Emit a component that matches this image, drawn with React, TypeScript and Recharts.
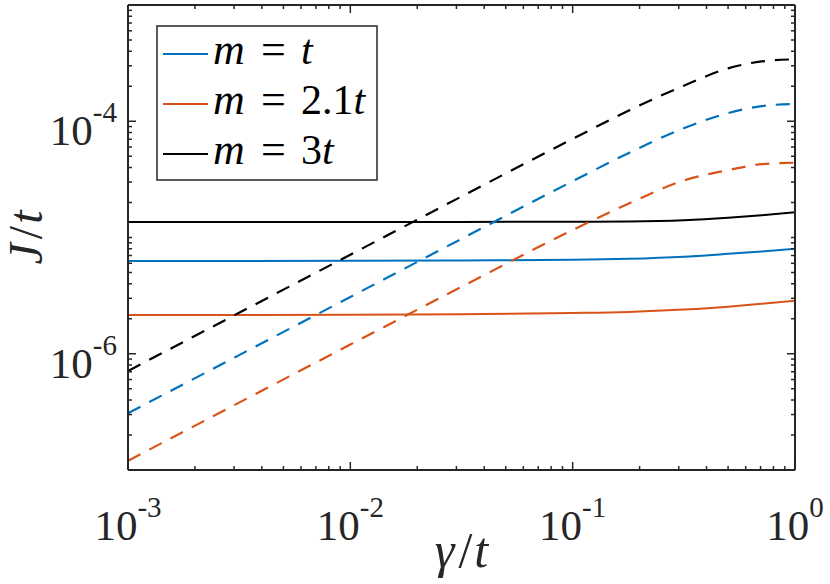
import React from 'react';
import { LineChart, Line, XAxis, YAxis, Legend, Label } from 'recharts';

// gamma / t sample points (log axis)
const gamma = [1e-3, 3.16e-3, 1e-2, 3.16e-2, 0.1, 0.178, 0.316, 0.5, 0.708, 1];

// solid curves
const solidM1 = [6.28e-6, 6.28e-6, 6.3e-6, 6.35e-6, 6.43e-6, 6.56e-6, 6.84e-6, 7.24e-6, 7.59e-6, 8.02e-6];
const solidM21 = [2.15e-6, 2.15e-6, 2.16e-6, 2.19e-6, 2.24e-6, 2.29e-6, 2.4e-6, 2.54e-6, 2.69e-6, 2.86e-6];
const solidM3 = [1.358e-5, 1.358e-5, 1.36e-5, 1.362e-5, 1.365e-5, 1.374e-5, 1.41e-5, 1.48e-5, 1.556e-5, 1.648e-5];

// dashed curves
const dashedM1 = [3.08e-7, 9.73e-7, 3.08e-6, 9.73e-6, 3.05e-5, 5.31e-5, 8.71e-5, 1.175e-4, 1.35e-4, 1.41e-4];
const dashedM21 = [1.2e-7, 3.8e-7, 1.2e-6, 3.76e-6, 1.16e-5, 1.95e-5, 3.09e-5, 3.8e-5, 4.27e-5, 4.4e-5];
const dashedM3 = [7.11e-7, 2.25e-6, 7.11e-6, 2.25e-5, 7.05e-5, 1.23e-4, 2.02e-4, 2.85e-4, 3.27e-4, 3.41e-4];

const legendOrder = ['s1', 's21', 's3'];

const xTicks = [
  1e-3, 2e-3, 3e-3, 4e-3, 5e-3, 6e-3, 7e-3, 8e-3, 9e-3,
  1e-2, 2e-2, 3e-2, 4e-2, 5e-2, 6e-2, 7e-2, 8e-2, 9e-2,
  1e-1, 0.2, 0.3, 0.4, 0.5, 0.6, 0.7, 0.8, 0.9, 1,
];
const yTicks = [
  1e-7, 2e-7, 3e-7, 4e-7, 5e-7, 6e-7, 7e-7, 8e-7, 9e-7,
  1e-6, 2e-6, 3e-6, 4e-6, 5e-6, 6e-6, 7e-6, 8e-6, 9e-6,
  1e-5, 2e-5, 3e-5, 4e-5, 5e-5, 6e-5, 7e-5, 8e-5, 9e-5,
  1e-4, 2e-4, 3e-4, 4e-4, 5e-4, 6e-4, 7e-4, 8e-4, 9e-4,
  1e-3,
];
const xLabelled = [1e-3, 1e-2, 1e-1, 1];
const yLabelled = [1e-6, 1e-4];

const data = gamma.map((g, i) => ({
  g,
  s1: solidM1[i],
  s21: solidM21[i],
  s3: solidM3[i],
  d1: dashedM1[i],
  d21: dashedM21[i],
  d3: dashedM3[i],
}));

const AXIS = '#262626';
const BLUE = '#0072BD';
const RED = '#D95319';
const serif = { fontFamily: 'Liberation Serif' };

const near = (a: number, b: number) => Math.abs(Math.log10(a) - Math.log10(b)) < 1e-6;
const isDecade = (v: number) => Math.abs(Math.log10(v) - Math.round(Math.log10(v))) < 1e-6;
const expOf = (v: number) => `${Math.round(Math.log10(v))}`;

function BottomTick({ x, y, payload }: any) {
  const v = payload.value;
  const major = isDecade(v);
  const show = xLabelled.some((t) => near(t, v));
  return (
    <g>
      <line x1={x} x2={x} y1={y} y2={y - (major ? 8 : 4)} stroke={AXIS} strokeWidth={1.5} />
      {show && (
        <text x={x} y={y + 70} textAnchor="middle" style={serif} fontSize={43} fill={AXIS}>
          10
          <tspan dy={-23} fontSize={29}>
            {expOf(v)}
          </tspan>
        </text>
      )}
    </g>
  );
}

function TopTick({ x, y, payload }: any) {
  const major = isDecade(payload.value);
  return <line x1={x} x2={x} y1={y} y2={y + (major ? 8 : 4)} stroke={AXIS} strokeWidth={1.5} />;
}

function LeftTick({ x, y, payload }: any) {
  const v = payload.value;
  const show = yLabelled.some((t) => near(t, v));
  return (
    <g>
      <line x1={x} x2={x + (show ? 8 : 4)} y1={y} y2={y} stroke={AXIS} strokeWidth={1.5} />
      {show && (
        <text x={x - 11} y={y + 24} textAnchor="end" style={serif} fontSize={43} fill={AXIS}>
          10
          <tspan dy={-23} fontSize={29}>
            {expOf(v)}
          </tspan>
        </text>
      )}
    </g>
  );
}

function RightTick({ x, y, payload }: any) {
  const major = yLabelled.some((t) => near(t, payload.value));
  return <line x1={x} x2={x - (major ? 8 : 4)} y1={y} y2={y} stroke={AXIS} strokeWidth={1.5} />;
}

function XTitle({ viewBox }: any) {
  const { x, y, width } = viewBox;
  return (
    <text x={x + width / 2} y={y + 97} textAnchor="middle" style={serif} fontSize={50} fill={AXIS}>
      <tspan fontStyle="italic">γ</tspan>
      <tspan dx={4}>/</tspan>
      <tspan dx={2} fontStyle="italic">t</tspan>
    </text>
  );
}

function YTitle({ viewBox }: any) {
  const { x, y, height } = viewBox;
  const cx = x + 42;
  const cy = y + height / 2;
  return (
    <text
      x={cx}
      y={cy}
      transform={`rotate(-90 ${cx} ${cy})`}
      textAnchor="middle"
      style={serif}
      fontSize={48}
      fill={AXIS}
    >
      <tspan fontStyle="italic">J</tspan>
      <tspan dx={4}>/</tspan>
      <tspan dx={2} fontStyle="italic">t</tspan>
    </text>
  );
}

function MathLegend({ payload }: any) {
  const items = (payload || [])
    .filter((p: any) => p.type !== 'none')
    .sort((a: any, b: any) => legendOrder.indexOf(a.dataKey) - legendOrder.indexOf(b.dataKey));
  return (
    <svg width={222} height={156} style={{ display: 'block' }}>
      <rect x={1} y={1} width={220} height={154} fill="#fff" stroke={AXIS} strokeWidth={1.5} />
      {items.map((p: any, i: number) => {
        const base = 39 + i * 50;
        const coef = String(p.value).split('=')[1].trim().slice(0, -1);
        return (
          <g key={i}>
            <line x1={7} x2={52} y1={base - 10} y2={base - 10} stroke={p.color} strokeWidth={2} />
            <text x={57} y={base} style={serif} fontSize={44} fontStyle="italic" fill="#000">
              m
            </text>
            <text x={105} y={base} style={serif} fontSize={44} fill="#000">
              =
            </text>
            <text x={145} y={base} style={serif} fontSize={42} fill="#000">
              {coef}
              <tspan fontStyle="italic">t</tspan>
            </text>
          </g>
        );
      })}
    </svg>
  );
}

export default function App() {
  return (
    <div style={{ position: 'absolute', left: 0, top: 0, background: '#fff' }}>
      <LineChart width={830} height={584} data={data} margin={{ top: 0, right: 0, bottom: 0, left: 0 }}>
        <XAxis
          dataKey="g"
          type="number"
          scale="log"
          domain={[1e-3, 1]}
          allowDataOverflow
          ticks={xTicks}
          interval={0}
          tickSize={0}
          tickMargin={0}
          tick={(p: any) => <BottomTick {...p} />}
          axisLine={{ stroke: AXIS, strokeWidth: 2 }}
          height={114}
        >
          <Label content={(p: any) => <XTitle {...p} />} />
        </XAxis>
        <XAxis
          xAxisId="top"
          orientation="top"
          dataKey="g"
          type="number"
          scale="log"
          domain={[1e-3, 1]}
          allowDataOverflow
          ticks={xTicks}
          interval={0}
          tickSize={0}
          tickMargin={0}
          tick={(p: any) => <TopTick {...p} />}
          axisLine={{ stroke: AXIS, strokeWidth: 2 }}
          height={5}
        />
        <YAxis
          type="number"
          scale="log"
          domain={[1e-7, 1e-3]}
          allowDataOverflow
          ticks={yTicks}
          interval={0}
          tickSize={0}
          tickMargin={0}
          tick={(p: any) => <LeftTick {...p} />}
          axisLine={{ stroke: AXIS, strokeWidth: 2 }}
          width={128}
        >
          <Label content={(p: any) => <YTitle {...p} />} />
        </YAxis>
        <YAxis
          yAxisId="right"
          orientation="right"
          type="number"
          scale="log"
          domain={[1e-7, 1e-3]}
          allowDataOverflow
          ticks={yTicks}
          interval={0}
          tickSize={0}
          tickMargin={0}
          tick={(p: any) => <RightTick {...p} />}
          axisLine={{ stroke: AXIS, strokeWidth: 2 }}
          width={35}
        />
        <Legend
          layout="horizontal"
          verticalAlign="middle"
          align="center"
          wrapperStyle={{ left: 156, top: 25, width: 222, height: 156 }}
          content={(p: any) => <MathLegend {...p} />}
        />
        <Line dataKey="s1" name="m = t" stroke={BLUE} strokeWidth={2} type="monotone" dot={false} activeDot={false} isAnimationActive={false} />
        <Line dataKey="s21" name="m = 2.1t" stroke={RED} strokeWidth={2} type="monotone" dot={false} activeDot={false} isAnimationActive={false} />
        <Line dataKey="s3" name="m = 3t" stroke="#000" strokeWidth={2} type="monotone" dot={false} activeDot={false} isAnimationActive={false} />
        <Line dataKey="d3" legendType="none" stroke="#000" strokeWidth={2.2} strokeDasharray="14 10" type="monotone" dot={false} activeDot={false} isAnimationActive={false} />
        <Line dataKey="d1" legendType="none" stroke={BLUE} strokeWidth={2.2} strokeDasharray="14 10" type="monotone" dot={false} activeDot={false} isAnimationActive={false} />
        <Line dataKey="d21" legendType="none" stroke={RED} strokeWidth={2.2} strokeDasharray="14 10" type="monotone" dot={false} activeDot={false} isAnimationActive={false} />
      </LineChart>
    </div>
  );
}
